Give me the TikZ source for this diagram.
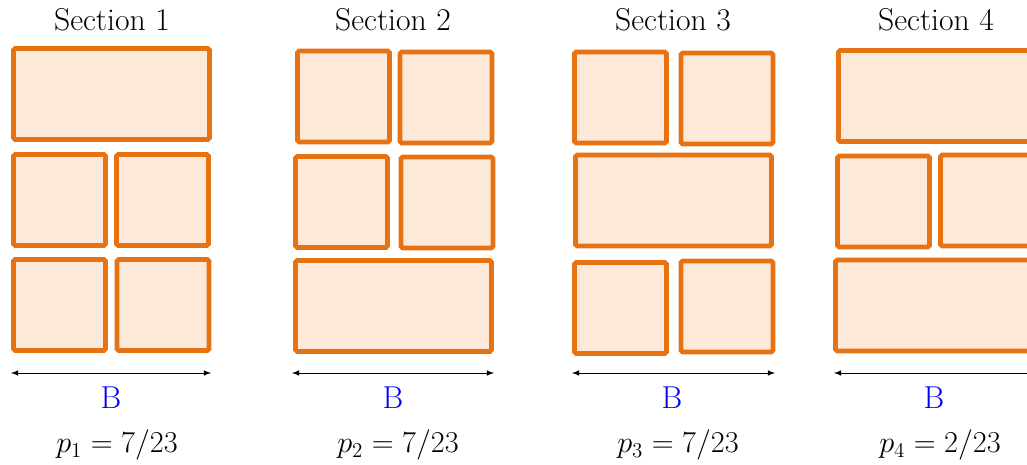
\documentclass[tikz,border=0pt]{standalone}
\usepackage{tikz}
\definecolor{brickedge}{RGB}{230,114,20}
\definecolor{brickfill}{RGB}{252,233,218}
\tikzset{
  brick/.style={draw=brickedge, fill=brickfill, line width=2.7pt, rounded corners=1pt,
    inner sep=0pt, minimum height=1.82cm},
  halfbrick/.style={brick, minimum width=1.84cm},
  widebrick/.style={brick, minimum width=3.92cm},
  label/.style={font=\fontsize{18}{21}\selectfont},
}
\begin{document}
\begin{tikzpicture}[x=0.02cm,y=-0.02cm]
\useasboundingbox (0,0) rectangle (1027,465);
% section 1
\node[label] (t1) at (112,20) {Section 1};
\node[widebrick] (s1a) at (111.5,94) {};
\node[halfbrick] (s1b) at (59.5,200) {};
\node[halfbrick] (s1c) at (162.5,200) {};
\node[halfbrick] (s1d) at (59.5,305) {};
\node[halfbrick] (s1e) at (163,305) {};
\coordinate (w1l) at (11,373);
\coordinate (w1r) at (211,373);
\draw[<->, >=latex] (w1l) -- (w1r);
\node[label, text=blue] (b1) at (111,398) {B};
\node[label] (p1) at (117,445) {$p_1=7/23$};
% section 2
\node[label] (t2) at (393,20) {Section 2};
\node[halfbrick] (s2a) at (343.5,96.5) {};
\node[halfbrick] (s2b) at (446,97.5) {};
\node[halfbrick] (s2c) at (341.5,202) {};
\node[halfbrick] (s2d) at (447,202.5) {};
\node[widebrick] (s2e) at (393.5,306) {};
\coordinate (w2l) at (292,373);
\coordinate (w2r) at (494,373);
\draw[<->, >=latex] (w2l) -- (w2r);
\node[label, text=blue] (b2) at (393,398) {B};
\node[label] (p2) at (398,445) {$p_2=7/23$};
% section 3
\node[label] (t3) at (673,20) {Section 3};
\node[halfbrick] (s3a) at (620.5,97.5) {};
\node[halfbrick] (s3b) at (727,98.5) {};
\node[widebrick] (s3c) at (673.5,200.5) {};
\node[halfbrick] (s3d) at (620.5,308) {};
\node[halfbrick] (s3e) at (727,306.5) {};
\coordinate (w3l) at (572,373);
\coordinate (w3r) at (775,373);
\draw[<->, >=latex] (w3l) -- (w3r);
\node[label, text=blue] (b3) at (672,398) {B};
\node[label] (p3) at (678,445) {$p_3=7/23$};
% section 4
\node[label] (t4) at (936,20) {Section 4};
\node[widebrick] (s4a) at (936.5,96) {};
\node[halfbrick] (s4b) at (883.5,201.5) {};
\node[halfbrick] (s4c) at (986.5,200.5) {};
\node[widebrick] (s4d) at (933.5,305.5) {};
\coordinate (w4l) at (834,373);
\coordinate (w4r) at (1035,373);
\draw[<->, >=latex] (w4l) -- (w4r);
\node[label, text=blue] (b4) at (934,398) {B};
\node[label] (p4) at (940,445) {$p_4=2/23$};
\end{tikzpicture}
\end{document}
